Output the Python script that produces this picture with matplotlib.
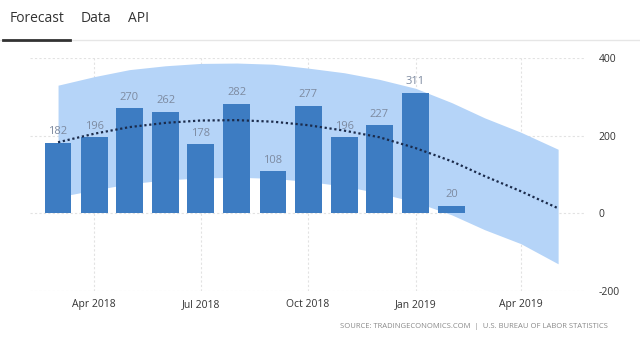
import matplotlib
matplotlib.use("Agg")
import matplotlib.pyplot as plt
import matplotlib.dates as mdates
from datetime import datetime

plt.rcParams["axes.unicode_minus"] = False
plt.rcParams["font.family"] = ["Open Sans", "DejaVu Sans"]

# monthly non farm payrolls (thousands), plotted at month end
bar_dates = ["2018-03-01", "2018-04-01", "2018-05-01", "2018-06-01", "2018-07-01", "2018-08-01",
             "2018-09-01", "2018-10-01", "2018-11-01", "2018-12-01", "2019-01-01", "2019-02-01"]
bar_values = [182, 196, 270, 262, 178, 282, 108, 277, 196, 227, 311, 20]

# forecast trend and band
band_dates = ["2018-03-01", "2018-04-01", "2018-05-01", "2018-06-01", "2018-07-01", "2018-08-01",
              "2018-09-01", "2018-10-01", "2018-11-01", "2018-12-01", "2019-01-01", "2019-02-01",
              "2019-03-01", "2019-04-01", "2019-05-03"]
trend = [183, 205, 222, 233, 239, 240, 236, 227, 213, 196, 168, 134, 96, 57, 13]
upper = [330, 352, 370, 380, 386, 387, 384, 374, 362, 345, 322, 285, 246, 209, 165]
lower = [42, 60, 76, 86, 91, 93, 90, 82, 70, 52, 29, -4, -42, -78, -130]

yticks = [-200, 0, 200, 400]
xticks = ["2018-04-01", "2018-07-01", "2018-10-01", "2019-01-01", "2019-04-01"]

def to_dt(lst):
    return [datetime.strptime(s, "%Y-%m-%d") for s in lst]

bd = to_dt(bar_dates)
fd = to_dt(band_dates)

fig = plt.figure(figsize=(6.4, 3.41), dpi=100)
ax = fig.add_axes([30/640, 50/341, 555/640, 233/341])

ax.fill_between(fd, lower, upper, color="#b5d4f8", lw=0, zorder=1)
ax.bar(bd, bar_values, width=23, color="#3d7cc2", zorder=2)
ax.plot(fd, trend, color="#1b2b4b", ls=(0, (1, 1.2)), lw=1.6, zorder=3)

for d, v in zip(bd, bar_values):
    ax.text(d, v + 14, str(v), ha="center", va="bottom", fontsize=8, color="#7d8aa0", zorder=4)

ax.set_ylim(-200, 400)
ax.set_xlim(datetime(2018, 2, 5), datetime(2019, 5, 26))
ax.set_yticks(yticks)
ax.set_xticks(to_dt(xticks))
ax.xaxis.set_major_formatter(mdates.DateFormatter("%b %Y"))
ax.yaxis.tick_right()
ax.tick_params(axis="both", length=0, labelsize=7.5, colors="#333333")
ax.tick_params(axis="y", pad=10)
ax.tick_params(axis="x", pad=6)
ax.grid(True, color="#e2e2e2", lw=0.8, ls=(0, (2, 2)), zorder=0)
ax.set_axisbelow(True)
for s in ax.spines.values():
    s.set_visible(False)

# tabs
fig.text(10/640, 1 - 19/341, "Forecast", fontsize=10, color="#333333", va="center")
fig.text(81/640, 1 - 19/341, "Data", fontsize=10, color="#333333", va="center")
fig.text(128/640, 1 - 19/341, "API", fontsize=10, color="#333333", va="center")
fig.add_artist(plt.Line2D([0, 1], [1 - 40/341] * 2, color="#e6e6e6", lw=1))
fig.add_artist(plt.Line2D([3/640, 70/640], [1 - 40/341] * 2, color="#333333", lw=2))

fig.text(608/640, 1 - 326/341, "SOURCE: TRADINGECONOMICS.COM  |  U.S. BUREAU OF LABOR STATISTICS",
         fontsize=5.5, color="#8a8a8a", ha="right", va="center")

fig.savefig("out.png", dpi=100)
